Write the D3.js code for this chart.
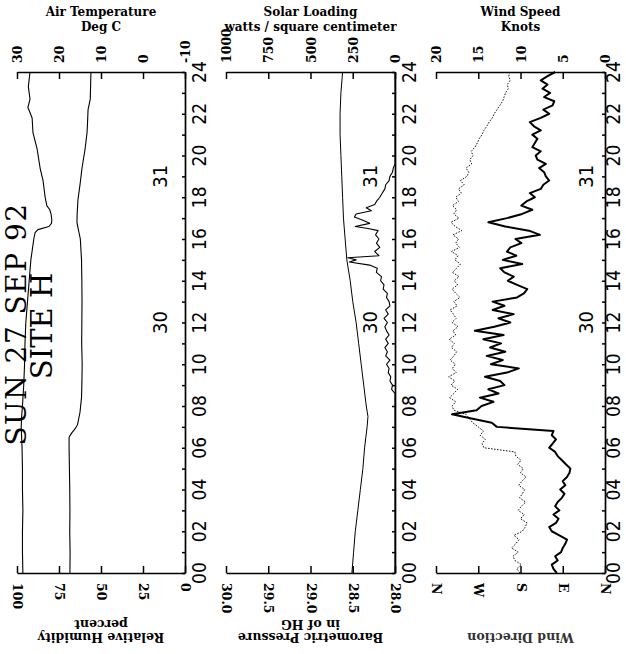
<!DOCTYPE html>
<html><head><meta charset="utf-8">
<script src="https://cdn.jsdelivr.net/npm/d3@7"></script>
<style>
body{margin:0;background:#fff}
svg{display:block}
</style>
</head><body>
<svg id="c" width="626" height="654"></svg>
<script>
// ---------------- DATA ----------------
const hourLabels = ["00","02","04","06","08","10","12","14","16","18","20","22","24"];
const dayLabels = ["30","31"];
const dayLabelHours = [12, 19];
const dateTitle = "SUN 27 SEP 92";
const siteTitle = "SITE H";

// Panel 1: Air temperature (top axis) & relative humidity (bottom axis)
const tempTicks = [30, 20, 10, 0, -10];
const tempTickLabels = ["30", "20", "10", "0", "-10"];
const humTicks = [100, 75, 50, 25, 0];
const humTickLabels = ["100", "75", "50", "25", "0"];
const tempHours = [0,1,2,3,4,5,6,7,7.5,8,9,10,11,12,13,14,15,16,16.3,16.45,16.6,16.75,16.9,17.2,17.4,17.6,18,18.8,19.4,20.3,21.1,21.8,22.3,22.7,23.3,24];
const tempValues = [28.6,28.7,28.7,28.6,28.7,28.7,28.8,29.0,28.9,28.7,28.4,28.2,28.1,27.9,27.5,27.1,26.7,26.0,25.7,25.0,22.4,21.8,21.7,21.9,22.2,22.9,23.3,23.8,24.5,25.2,26.2,26.4,27.4,26.9,27.3,26.9];
const humHours = [0,1,2,3,4,5,6,6.5,6.7,6.9,7.1,7.7,8.4,9,10,11,12,13,14,15,16,16.5,16.8,17.2,17.9,18.6,19.4,20.3,21.1,21.6,22.2,22.7,23.3,24];
const humValues = [68.5,68.4,68.6,68.5,68.6,68.8,69.0,69.0,67.5,65.5,64.0,62.5,61.6,61.4,61.2,61.5,61.4,61.3,61.4,61.6,62.3,63.6,64.3,64.2,63.7,62.5,61.3,59.5,58.3,58.0,57.7,56.4,56.2,56.0];

// Panel 2: Solar loading (top axis) & barometric pressure (bottom axis)
const solarTicks = [1000, 750, 500, 250, 0];
const solarTickLabels = ["1000", "750", "500", "250", "0"];
const presTicks = [30.0, 29.5, 29.0, 28.5, 28.0];
const presTickLabels = ["30.0", "29.5", "29.0", "28.5", "28.0"];
const solarHours = [0,8.6,8.8,9.0,9.2,9.4,9.6,9.8,10.0,10.2,10.4,10.6,10.8,11.0,11.2,11.4,11.6,11.8,12.0,12.2,12.4,12.6,12.8,13.0,13.2,13.4,13.6,13.8,14.0,14.2,14.4,14.6,14.75,14.9,15.0,15.1,15.2,15.4,15.6,15.8,16.0,16.2,16.4,16.5,16.6,16.75,16.9,17.05,17.2,17.35,17.5,17.65,17.8,18.0,18.2,18.4,18.6,18.8,19.0,19.2,19.4,19.6,24];
const solarValues = [0,0,20,15,30,25,40,35,50,30,55,45,60,40,55,35,50,60,45,65,40,55,30,35,50,45,70,65,85,80,110,105,150,270,230,280,95,120,90,110,95,115,100,160,235,150,190,240,230,140,170,120,110,90,75,60,55,35,30,15,10,0,0];
const presHours = [0,1,2,3,4,5,6,7,7.5,8,9,10,11,12,13,14,15,16,17,18,19,20,21,22,23,24];
const presValues = [28.51,28.49,28.47,28.44,28.41,28.38,28.36,28.33,28.32,28.34,28.37,28.40,28.43,28.46,28.50,28.53,28.57,28.59,28.61,28.62,28.63,28.64,28.65,28.65,28.64,28.62];

// Panel 3: Wind speed (top axis) & wind direction (bottom axis), one reading every 0.2 h
const windTicks = [20, 15, 10, 5, 0];
const windTickLabels = ["20", "15", "10", "5", "0"];
const dirTicks = [360, 270, 180, 90, 0];
const dirTickLabels = ["N", "W", "S", "E", "N"];
const windStepHours = 0.2;
const windSpeed = [
 5.7,6.1,6.3,5.6,5.9,5.2,5.0,4.7,4.5,5.4,
 6.3,6.6,5.8,5.5,6.1,5.4,5.9,5.6,5.1,4.8,
 5.3,4.7,5.0,4.5,4.2,4.1,4.6,5.1,5.6,5.9,
 6.6,6.2,5.8,6.3,6.1,12.8,13.4,15.8,18.1,15.2,
 14.6,13.2,14.8,12.6,13.8,11.9,12.4,14.2,11.6,10.2,
 13.5,12.1,14.0,11.8,13.6,12.3,14.4,12.0,15.4,13.1,
 11.2,12.6,10.8,13.3,11.9,13.3,10.4,9.6,9.2,10.4,
 11.5,10.8,11.9,12.4,9.8,12.1,10.5,11.6,11.2,9.9,
 10.6,7.7,9.0,11.8,13.8,11.6,9.8,8.6,9.9,9.3,
 8.3,8.9,7.6,7.3,6.6,7.0,7.2,7.8,7.0,8.0,
 8.2,7.6,8.6,8.3,8.0,8.6,7.6,8.4,8.9,7.6,
 6.6,7.3,6.2,6.0,7.2,6.5,7.4,6.8,7.6,6.8,
 5.9];
const windDir = [
 181,188,178,192,196,185,199,190,183,194,
 176,170,166,180,172,185,178,169,182,176,
 171,184,177,168,180,174,186,179,190,192,
 258,262,255,266,259,270,282,289,296,322,
 326,318,331,322,314,328,320,333,317,325,
 319,330,322,316,327,321,332,318,324,313,
 326,317,323,330,315,322,309,318,326,314,
 321,311,325,316,308,320,313,327,310,318,
 312,324,305,319,328,311,322,316,325,312,
 318,306,312,300,308,294,290,296,284,288,
 281,285,277,272,268,262,258,252,247,240,
 236,230,224,218,215,212,206,208,202,205,
 203];

const panelTopTitles = [["Air Temperature","Deg C"],["Solar Loading","watts / square centimeter"],["Wind Speed","Knots"]];
const panelBottomTitles = [["Relative Humidity","percent"],["Barometric Pressure","in of HG"],["Wind Direction"]];

// ---------------- LAYOUT ----------------
const svg = d3.select("#c");
const yTop = 72, yBot = 573;
const y = d3.scaleLinear().domain([0, 24]).range([yBot, yTop]);
const panelX = [[17, 185], [226, 395], [436, 605]];
const hourLabelX = [199, 409, 613];
const dayLabelX = [160, 370, 586];
const serifBold = "'DejaVu Serif', serif";
const hourFont = "'Liberation Sans Narrow','DejaVu Sans Condensed','Liberation Sans',sans-serif";

const panels = [
  {top: d3.scaleLinear().domain([30, -10]), topTicks: tempTicks, topLabels: tempTickLabels,
   bot: d3.scaleLinear().domain([100, 0]), botTicks: humTicks, botLabels: humTickLabels},
  {top: d3.scaleLinear().domain([1000, 0]), topTicks: solarTicks, topLabels: solarTickLabels,
   bot: d3.scaleLinear().domain([30, 28]), botTicks: presTicks, botLabels: presTickLabels},
  {top: d3.scaleLinear().domain([20, 0]), topTicks: windTicks, topLabels: windTickLabels,
   bot: d3.scaleLinear().domain([360, 0]), botTicks: dirTicks, botLabels: dirTickLabels}
];

panels.forEach((p, k) => {
  const [x0, x1] = panelX[k];
  p.top.range([x0, x1]);
  p.bot.range([x0, x1]);
  const g = svg.append("g");

  // top axis
  const at = g.append("g").attr("transform", `translate(0,${yTop})`)
    .call(d3.axisTop(p.top).tickValues(p.topTicks).tickSizeInner(-7).tickSizeOuter(0)
      .tickFormat(d => p.topLabels[p.topTicks.indexOf(d)]));
  at.selectAll("text").attr("transform", "rotate(-90)").attr("x", 9).attr("y", 0)
    .attr("dy", "0.36em").attr("text-anchor", "start")
    .attr("font-family", serifBold).attr("font-weight", "bold").attr("font-size", 12.5).attr("fill", "#000");

  // bottom axis
  const ab = g.append("g").attr("transform", `translate(0,${yBot})`)
    .call(d3.axisBottom(p.bot).tickValues(p.botTicks).tickSizeInner(-7).tickSizeOuter(0)
      .tickFormat(d => p.botLabels[p.botTicks.indexOf(d)]));
  ab.selectAll("text").attr("transform", "rotate(90)").attr("x", 10).attr("y", 0)
    .attr("dy", "0.36em").attr("text-anchor", "start")
    .attr("font-family", serifBold).attr("font-weight", "bold").attr("font-size", 12.5).attr("fill", "#000");

  // right (time) axis
  const ar = g.append("g").attr("transform", `translate(${x1},0)`)
    .call(d3.axisRight(y).tickValues(d3.range(0, 25)).tickSizeInner(-3).tickSizeOuter(0).tickFormat(""));

  [at, ab, ar].forEach(a => {
    a.select(".domain").attr("stroke", "#000").attr("stroke-width", 1.7);
    a.selectAll(".tick line").attr("stroke", "#000").attr("stroke-width", 1.5);
  });

  // hour labels
  g.selectAll("text.hour").data(hourLabels).join("text").attr("class", "hour")
    .attr("transform", d => `translate(${hourLabelX[k]},${y(+d)}) rotate(-90)`)
    .attr("text-anchor", "middle").attr("dy", "0.36em")
    .attr("font-family", hourFont).attr("font-size", 19).text(d => d);

  // day labels
  g.selectAll("text.day").data(dayLabels).join("text").attr("class", "day")
    .attr("transform", (d, i) => `translate(${dayLabelX[k]},${y(dayLabelHours[i])}) rotate(-90)`)
    .attr("text-anchor", "middle").attr("dy", "0.36em")
    .attr("font-family", hourFont).attr("font-size", 20).text(d => d);

  // top titles
  const cx = (x0 + x1) / 2;
  g.selectAll("text.ttl").data(panelTopTitles[k]).join("text").attr("class", "ttl")
    .attr("x", cx).attr("y", (d, i) => 16 + i * 14.5)
    .attr("text-anchor", "middle").attr("font-family", serifBold).attr("font-weight", "bold")
    .attr("font-size", 12).text(d => d);

  // bottom titles (upside down)
  const bt = panelBottomTitles[k];
  g.selectAll("text.btl").data(bt).join("text").attr("class", "btl")
    .attr("transform", (d, i) => `translate(${cx},${637 - i * 13}) rotate(180)`)
    .attr("text-anchor", "middle").attr("dy", "0.36em")
    .attr("font-family", serifBold).attr("font-weight", "bold")
    .attr("font-size", 12.5).attr("fill", k === 2 ? "#333" : "#000").text(d => d);
});

// ---------------- DATA LINES ----------------
const [P1, P2, P3] = panels;
const drawLine = (hours, values, xs, width, dash) => svg.append("path")
  .datum(hours.map((h, i) => [h, values[i]]))
  .attr("fill", "none").attr("stroke", "#000").attr("stroke-width", width)
  .attr("stroke-linejoin", "round").attr("stroke-dasharray", dash || null)
  .attr("d", d3.line().x(d => xs(d[1])).y(d => y(d[0])));

drawLine(tempHours, tempValues, P1.top, 1.1);
drawLine(humHours, humValues, P1.bot, 1.1);
drawLine(presHours, presValues, P2.bot, 1.0);
drawLine(solarHours, solarValues, P2.top, 1.1);
const windHours = windSpeed.map((v, i) => i * windStepHours);
drawLine(windHours, windDir, P3.bot, 0.9, "1.6,1.4");
drawLine(windHours, windSpeed, P3.top, 2.0);

// ---------------- BIG TITLE ----------------
svg.append("text").attr("transform", `translate(26,324) rotate(-90)`)
  .attr("text-anchor", "middle").attr("font-family", "'DejaVu Serif', serif")
  .attr("font-size", 28).attr("letter-spacing", 1.5).text(dateTitle);
svg.append("text").attr("transform", `translate(52,326) rotate(-90)`)
  .attr("text-anchor", "middle").attr("font-family", "'DejaVu Serif', serif")
  .attr("font-size", 29).text(siteTitle);
</script>
</body></html>
